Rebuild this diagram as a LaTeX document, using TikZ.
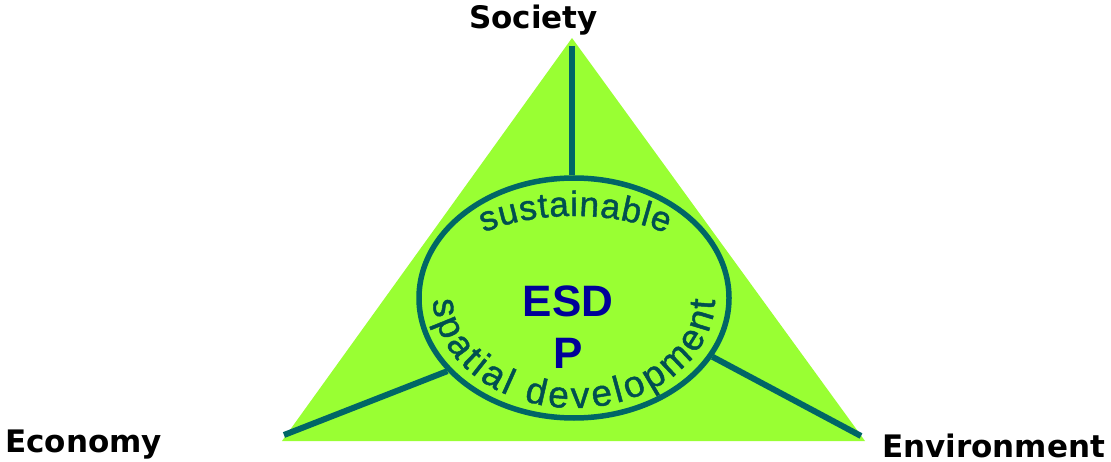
\documentclass[tikz,border=0pt]{standalone}
\usepackage{fontspec}
\usepackage{tikz}
\usetikzlibrary{
	shapes.geometric,
	decorations.text,
	positioning
}
\newfontfamily\labelfont{DejaVu Sans}
\newfontfamily\arialfont{Liberation Sans}
\newfontfamily\curvefont[FakeBold=1.2]{Liberation Sans}
\definecolor{leafgreen}{HTML}{99FF33}
\definecolor{deepteal}{HTML}{006666}
\definecolor{wordteal}{HTML}{004F50}
\definecolor{esdblue}{HTML}{000099}
\tikzset{
	pillar/.style={draw=deepteal,line width=6pt},
	corner/.style={font=\labelfont\bfseries\fontsize{31}{37}\selectfont,anchor=base west,inner sep=0pt},
	core/.style={ellipse,draw=deepteal,line width=5.5pt,minimum width=310pt,minimum height=240pt,inner sep=0pt},
	acronym/.style={font=\arialfont\bfseries\fontsize{44}{52}\selectfont,text=esdblue,inner sep=0pt},
	curved/.style={decorate,decoration={text along path,text align={fit to path},text color=wordteal,#1}}
}

\begin{document}
\begin{tikzpicture}[x=1pt,y=1pt]
		\useasboundingbox (0,0) rectangle (1111,461);

		% corners of the triangle
		\coordinate (soc) at (572,423);
		\coordinate (eco) at (282,20);
		\coordinate (env) at (865,20);
		\fill[leafgreen] (soc) -- (eco) -- (env) -- cycle;

		\draw
			node[core]                 (esdp) at (574,163) {}
			node[acronym]              (esd)  at (568,160) {ESD}
			node[acronym,below=21pt of esd] (p) {P}

			node[corner] (society)     at (469,432) {Society}
			node[corner] (economy)     at (5,9)     {Economy}
			node[corner] (environment) at (882,4)   {Environment}
		;

		% the three pillars
		\coordinate (soctip) at (572,415);
		\coordinate (ecotip) at (284,26);
		\coordinate (envtip) at (861,25);
		\draw[pillar] (soctip) -- (soctip |- esdp.north);
		\draw[pillar] (ecotip) -- (esdp.210);
		\draw[pillar] (envtip) -- (esdp.337);

		% curved words inside the ellipse
		\path[curved={text={|\curvefont\fontsize{35}{40}\selectfont|sustainable}}]
			(esdp.center) ++(127:150 and 82) arc[start angle=127,end angle=52,x radius=150,y radius=82];
		\path[curved={text={|\curvefont\fontsize{37}{42}\selectfont|spatial development}}]
			(esdp.center) ++(181:141 and 110) arc[start angle=181,end angle=359,x radius=141,y radius=110];
	\end{tikzpicture}
\end{document}
